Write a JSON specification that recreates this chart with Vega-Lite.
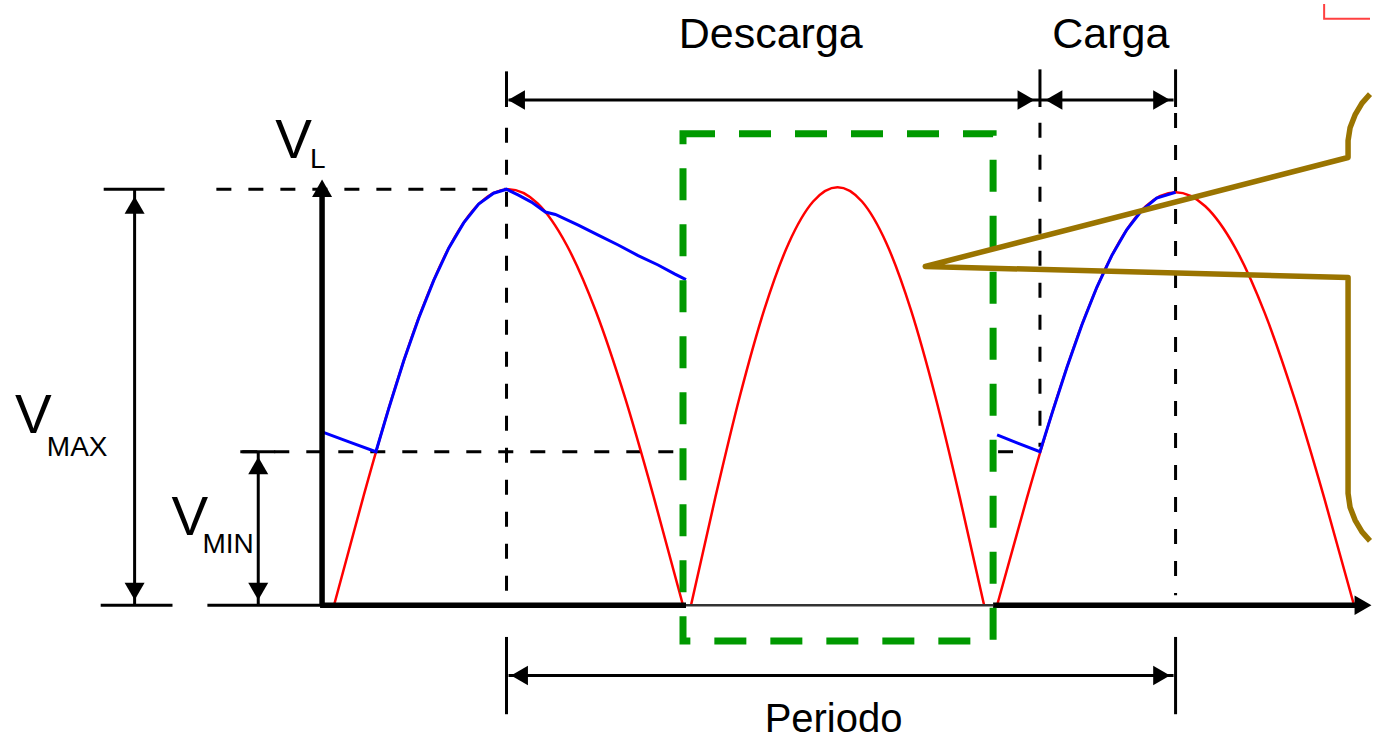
{
  "$schema": "https://vega.github.io/schema/vega-lite/v6.json",
  "width": 1374,
  "height": 740,
  "padding": 0,
  "autosize": {"type": "fit", "contains": "padding"},
  "background": "white",
  "config": {"view": {"stroke": null}},
  "encoding": {
    "x": {"field": "t", "type": "quantitative", "scale": {"domain": [0, 1374], "nice": false, "zero": false}, "axis": null},
    "y": {"field": "v", "type": "quantitative", "scale": {"domain": [-133, 607], "nice": false, "zero": false}, "axis": null}
  },
  "layer": [
    {
      "data": {"values": [
        {"id": "d1", "o": 0, "t": 217, "v": 420}, {"id": "d1", "o": 1, "t": 507, "v": 420},
        {"id": "d2", "o": 0, "t": 243, "v": 155}, {"id": "d2", "o": 1, "t": 688, "v": 155},
        {"id": "d3", "o": 0, "t": 508, "v": 482}, {"id": "d3", "o": 1, "t": 508, "v": 10},
        {"id": "d4", "o": 0, "t": 1043, "v": 487}, {"id": "d4", "o": 1, "t": 1043, "v": 160},
        {"id": "d5", "o": 0, "t": 1179, "v": 497}, {"id": "d5", "o": 1, "t": 1179, "v": 10}
      ]},
      "mark": {"type": "line", "color": "black", "strokeWidth": 3, "strokeDash": [15, 17]},
      "encoding": {"detail": {"field": "id"}, "order": {"field": "o"}}
    },
    {
      "data": {"values": [
        {"id": "a1", "t": 335, "v": 0}, {"id": "a1", "t": 364.2, "v": 108.7}, {"id": "a1", "t": 393.3, "v": 210}, {"id": "a1", "t": 422.5, "v": 297}, {"id": "a1", "t": 451.7, "v": 363.7}, {"id": "a1", "t": 480.8, "v": 405.7}, {"id": "a1", "t": 510, "v": 420}, {"id": "a1", "t": 539.2, "v": 405.7}, {"id": "a1", "t": 568.3, "v": 363.7}, {"id": "a1", "t": 597.5, "v": 297}, {"id": "a1", "t": 626.7, "v": 210}, {"id": "a1", "t": 655.8, "v": 108.7}, {"id": "a1", "t": 685, "v": 0},
        {"id": "a2", "t": 693, "v": 0}, {"id": "a2", "t": 717.5, "v": 109.2}, {"id": "a2", "t": 742, "v": 211}, {"id": "a2", "t": 766.5, "v": 298.4}, {"id": "a2", "t": 791, "v": 365.5}, {"id": "a2", "t": 815.5, "v": 407.6}, {"id": "a2", "t": 840, "v": 422}, {"id": "a2", "t": 864.5, "v": 407.6}, {"id": "a2", "t": 889, "v": 365.5}, {"id": "a2", "t": 913.5, "v": 298.4}, {"id": "a2", "t": 938, "v": 211}, {"id": "a2", "t": 962.5, "v": 109.2}, {"id": "a2", "t": 987, "v": 0},
        {"id": "a3", "t": 1000, "v": 0}, {"id": "a3", "t": 1029.8, "v": 107.9}, {"id": "a3", "t": 1059.7, "v": 208.5}, {"id": "a3", "t": 1089.5, "v": 294.9}, {"id": "a3", "t": 1119.3, "v": 361.1}, {"id": "a3", "t": 1149.2, "v": 402.8}, {"id": "a3", "t": 1179, "v": 417}, {"id": "a3", "t": 1208.8, "v": 402.8}, {"id": "a3", "t": 1238.7, "v": 361.1}, {"id": "a3", "t": 1268.5, "v": 294.9}, {"id": "a3", "t": 1298.3, "v": 208.5}, {"id": "a3", "t": 1328.2, "v": 107.9}, {"id": "a3", "t": 1358, "v": 0}
      ]},
      "mark": {"type": "line", "color": "#ff0000", "strokeWidth": 2.5, "interpolate": "monotone"},
      "encoding": {"detail": {"field": "id"}}
    },
    {
      "data": {"values": [
        {"id": "b1", "o": 0, "t": 323, "v": 175}, {"id": "b1", "o": 1, "t": 350, "v": 165}, {"id": "b1", "o": 2, "t": 377, "v": 155}, {"id": "b1", "o": 3, "t": 390, "v": 199}, {"id": "b1", "o": 4, "t": 405, "v": 247}, {"id": "b1", "o": 5, "t": 420, "v": 290}, {"id": "b1", "o": 6, "t": 435, "v": 328}, {"id": "b1", "o": 7, "t": 450, "v": 360.5}, {"id": "b1", "o": 8, "t": 465, "v": 386}, {"id": "b1", "o": 9, "t": 480, "v": 405}, {"id": "b1", "o": 10, "t": 495, "v": 416}, {"id": "b1", "o": 11, "t": 508, "v": 420}, {"id": "b1", "o": 12, "t": 520, "v": 414}, {"id": "b1", "o": 13, "t": 533, "v": 407}, {"id": "b1", "o": 14, "t": 547, "v": 397}, {"id": "b1", "o": 15, "t": 557, "v": 394.5}, {"id": "b1", "o": 16, "t": 580, "v": 383.7}, {"id": "b1", "o": 17, "t": 600, "v": 373.7}, {"id": "b1", "o": 18, "t": 620, "v": 363.7}, {"id": "b1", "o": 19, "t": 640, "v": 353}, {"id": "b1", "o": 20, "t": 660, "v": 343.5}, {"id": "b1", "o": 21, "t": 677, "v": 334.3}, {"id": "b1", "o": 22, "t": 688, "v": 328.7},
        {"id": "b2", "o": 0, "t": 1000, "v": 172}, {"id": "b2", "o": 1, "t": 1020, "v": 164}, {"id": "b2", "o": 2, "t": 1043, "v": 155}, {"id": "b2", "o": 3, "t": 1055, "v": 193.5}, {"id": "b2", "o": 4, "t": 1070, "v": 240}, {"id": "b2", "o": 5, "t": 1085, "v": 283}, {"id": "b2", "o": 6, "t": 1100, "v": 321}, {"id": "b2", "o": 7, "t": 1115, "v": 353}, {"id": "b2", "o": 8, "t": 1130, "v": 379}, {"id": "b2", "o": 9, "t": 1145, "v": 398.5}, {"id": "b2", "o": 10, "t": 1160, "v": 411}, {"id": "b2", "o": 11, "t": 1179, "v": 417}
      ]},
      "mark": {"type": "line", "color": "#0000ff", "strokeWidth": 3},
      "encoding": {"detail": {"field": "id"}, "order": {"field": "o"}}
    },
    {
      "data": {"values": [
        {"id": "vmax", "o": 0, "t": 135, "v": 420}, {"id": "vmax", "o": 1, "t": 135, "v": 0},
        {"id": "vmaxT", "o": 0, "t": 104, "v": 420}, {"id": "vmaxT", "o": 1, "t": 165, "v": 420},
        {"id": "vmaxB", "o": 0, "t": 101, "v": 0}, {"id": "vmaxB", "o": 1, "t": 173, "v": 0},
        {"id": "vmin", "o": 0, "t": 259, "v": 155}, {"id": "vmin", "o": 1, "t": 259, "v": 0},
        {"id": "vminT", "o": 0, "t": 241, "v": 155}, {"id": "vminT", "o": 1, "t": 276, "v": 155},
        {"id": "vminB", "o": 0, "t": 208, "v": 0}, {"id": "vminB", "o": 1, "t": 323, "v": 0},
        {"id": "top", "o": 0, "t": 510, "v": 510}, {"id": "top", "o": 1, "t": 1177, "v": 510},
        {"id": "tk1", "o": 0, "t": 508, "v": 539}, {"id": "tk1", "o": 1, "t": 508, "v": 503},
        {"id": "tk2", "o": 0, "t": 1043, "v": 541}, {"id": "tk2", "o": 1, "t": 1043, "v": 503},
        {"id": "tk3", "o": 0, "t": 1179, "v": 541}, {"id": "tk3", "o": 1, "t": 1179, "v": 503},
        {"id": "per", "o": 0, "t": 510, "v": -71}, {"id": "per", "o": 1, "t": 1177, "v": -71},
        {"id": "bk1", "o": 0, "t": 508, "v": -32}, {"id": "bk1", "o": 1, "t": 508, "v": -110},
        {"id": "bk2", "o": 0, "t": 1179, "v": -32}, {"id": "bk2", "o": 1, "t": 1179, "v": -110},
        {"id": "sh", "o": 0, "t": 1001, "v": 155}, {"id": "sh", "o": 1, "t": 1016, "v": 155}
      ]},
      "mark": {"type": "line", "color": "black", "strokeWidth": 3},
      "encoding": {"detail": {"field": "id"}, "order": {"field": "o"}}
    },
    {
      "data": {"values": [
        {"id": "axis", "o": 0, "t": 323, "v": 0}, {"id": "axis", "o": 1, "t": 323, "v": 423},
        {"id": "base1", "o": 0, "t": 321, "v": 0}, {"id": "base1", "o": 1, "t": 688, "v": 0},
        {"id": "base2", "o": 0, "t": 996, "v": 0}, {"id": "base2", "o": 1, "t": 1366, "v": 0}
      ]},
      "mark": {"type": "line", "color": "black", "strokeWidth": 5.5},
      "encoding": {"detail": {"field": "id"}, "order": {"field": "o"}}
    },
    {
      "data": {"values": [
        {"id": "base", "o": 0, "t": 688, "v": 0}, {"id": "base", "o": 1, "t": 996, "v": 0}
      ]},
      "mark": {"type": "line", "color": "#333333", "strokeWidth": 2.5},
      "encoding": {"detail": {"field": "id"}, "order": {"field": "o"}}
    },
    {
      "data": {"values": [
        {"t": 323, "v": 421}, {"t": 135, "v": 404}, {"t": 259, "v": 141}
      ]},
      "mark": {"type": "point", "shape": "triangle-up", "filled": true, "color": "black", "size": 400, "opacity": 1}
    },
    {
      "data": {"values": [
        {"t": 135, "v": 14}, {"t": 259, "v": 14}
      ]},
      "mark": {"type": "point", "shape": "triangle-down", "filled": true, "color": "black", "size": 400, "opacity": 1}
    },
    {
      "data": {"values": [
        {"t": 518, "v": 510}, {"t": 1057, "v": 510}, {"t": 521, "v": -71}
      ]},
      "mark": {"type": "point", "shape": "triangle-left", "filled": true, "color": "black", "size": 380, "opacity": 1}
    },
    {
      "data": {"values": [
        {"t": 1029, "v": 510}, {"t": 1165, "v": 510}, {"t": 1165, "v": -71}, {"t": 1367, "v": 0}
      ]},
      "mark": {"type": "point", "shape": "triangle-right", "filled": true, "color": "black", "size": 380, "opacity": 1}
    },
    {
      "data": {"values": [
        {"t": 773, "v": 563, "label": "Descarga"}, {"t": 1114, "v": 563, "label": "Carga"}
      ]},
      "mark": {"type": "text", "font": "Liberation Sans", "fontSize": 43, "align": "center", "baseline": "alphabetic", "color": "black"},
      "encoding": {"text": {"field": "label"}}
    },
    {
      "data": {"values": [
        {"t": 836, "v": -128, "label": "Periodo"}
      ]},
      "mark": {"type": "text", "font": "Liberation Sans", "fontSize": 40, "align": "center", "baseline": "alphabetic", "color": "black"},
      "encoding": {"text": {"field": "label"}}
    },
    {
      "data": {"values": [
        {"t": 276, "v": 452, "label": "V"}, {"t": 15, "v": 174, "label": "V"}, {"t": 172, "v": 71, "label": "V"}
      ]},
      "mark": {"type": "text", "font": "Liberation Sans", "fontSize": 55, "align": "left", "baseline": "alphabetic", "color": "black"},
      "encoding": {"text": {"field": "label"}}
    },
    {
      "data": {"values": [
        {"t": 311, "v": 441, "label": "L"}, {"t": 47, "v": 151, "label": "MAX"}, {"t": 203, "v": 53, "label": "MIN"}
      ]},
      "mark": {"type": "text", "font": "Liberation Sans", "fontSize": 28, "align": "left", "baseline": "alphabetic", "color": "black"},
      "encoding": {"text": {"field": "label"}}
    },
    {
      "data": {"values": [
        {"t": 685, "t2": 996, "v": 476, "v2": -36}
      ]},
      "mark": {"type": "rect", "fill": "transparent", "stroke": "#009900", "strokeWidth": 7, "strokeDash": [32, 24]},
      "encoding": {"x2": {"field": "t2"}, "y2": {"field": "v2"}}
    },
    {
      "data": {"values": [
        {"o": 0, "t": 1374, "v": 516}, {"o": 1, "t": 1366, "v": 507}, {"o": 2, "t": 1359, "v": 495}, {"o": 3, "t": 1354, "v": 482}, {"o": 4, "t": 1352, "v": 469}, {"o": 5, "t": 1352, "v": 452}, {"o": 6, "t": 928, "v": 342}, {"o": 7, "t": 1352, "v": 331}, {"o": 8, "t": 1352, "v": 113}, {"o": 9, "t": 1354, "v": 99}, {"o": 10, "t": 1359, "v": 86}, {"o": 11, "t": 1366, "v": 74}, {"o": 12, "t": 1374, "v": 65}
      ]},
      "mark": {"type": "line", "color": "#9a7400", "strokeWidth": 5.5, "strokeJoin": "round"},
      "encoding": {"order": {"field": "o"}}
    },
    {
      "data": {"values": [
        {"o": 0, "t": 1328, "v": 607}, {"o": 1, "t": 1328, "v": 592}, {"o": 2, "t": 1374, "v": 592}
      ]},
      "mark": {"type": "line", "color": "#ff4040", "strokeWidth": 2},
      "encoding": {"order": {"field": "o"}}
    }
  ]
}
